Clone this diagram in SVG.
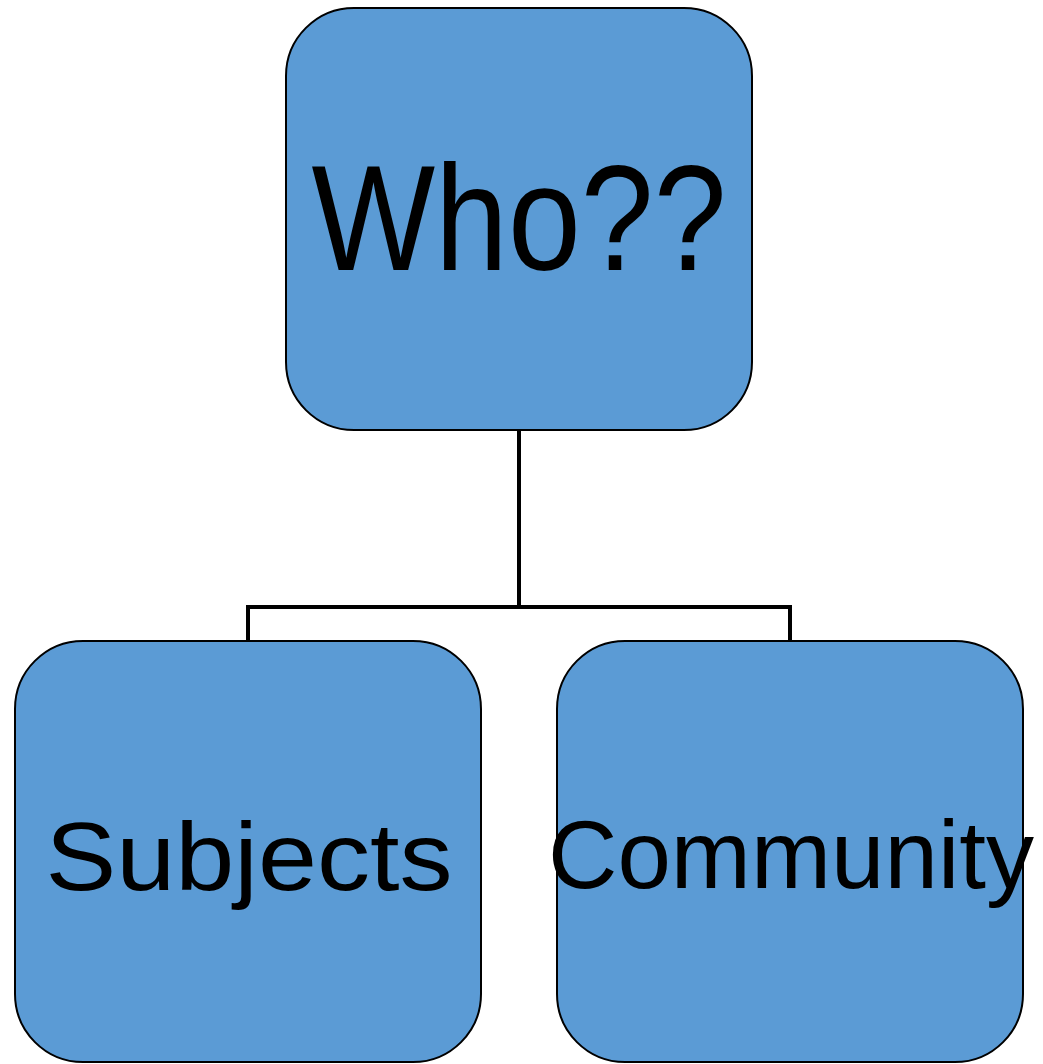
<svg xmlns="http://www.w3.org/2000/svg" width="1043" height="1064" viewBox="0 0 1043 1064">
<style>
.box{fill:#5B9BD5;stroke:#000;stroke-width:2}
.lbl{font-family:"Liberation Sans","DejaVu Sans",sans-serif;fill:#000;text-anchor:middle}
.conn{fill:none;stroke:#000;stroke-width:4}
</style>
<rect width="1043" height="1064" fill="#fff"/>
<g id="connectors">
<path class="conn" d="M519 430 V607 M248 641 V607 H519 M790 641 V607 H519"/>
</g>
<g id="node-who">
<rect class="box" x="286" y="8" width="466" height="422" rx="68" ry="68"/>
<text class="lbl" x="519" y="270" font-size="150" textLength="415" lengthAdjust="spacingAndGlyphs">Who??</text>
</g>
<g id="node-subjects">
<rect class="box" x="15" y="641" width="466" height="421" rx="68" ry="68"/>
<text class="lbl" x="249" y="890" font-size="96" textLength="407" lengthAdjust="spacingAndGlyphs">Subjects</text>
</g>
<g id="node-community">
<rect class="box" x="557" y="641" width="466" height="421" rx="68" ry="68"/>
<text class="lbl" x="791" y="888" font-size="96" textLength="486" lengthAdjust="spacingAndGlyphs">Community</text>
</g>
</svg>
